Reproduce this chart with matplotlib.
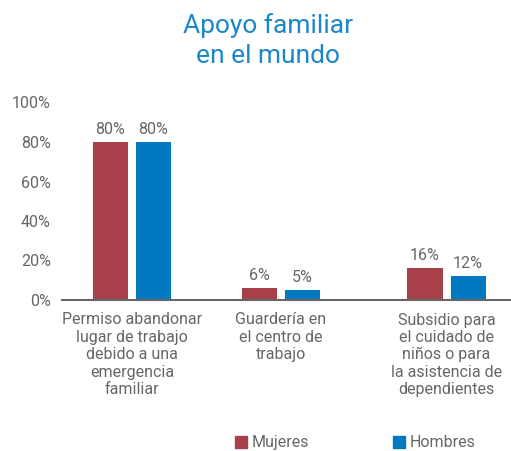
import matplotlib
matplotlib.use("Agg")
import matplotlib.pyplot as plt
from matplotlib.patches import Patch
import numpy as np

plt.rcParams['font.family'] = ['Roboto', 'DejaVu Sans']

categories = ["Permiso abandonar\nlugar de trabajo\ndebido a una\nemergencia\nfamiliar",
              "Guardería en\nel centro de\ntrabajo",
              "Subsidio para\nel cuidado de\nniños o para\nla asistencia de\ndependientes"]
mujeres = [80, 6, 16]
hombres = [80, 5, 12]
series_names = ["Mujeres", "Hombres"]
yticks = [0, 20, 40, 60, 80, 100]
title = "Apoyo familiar\nen el mundo"

# layout: group centres on the category axis
group_pos = np.array([0, 0.947, 2])

red = "#A8404A"
blue = "#0079C1"
gray = "#666666"

fig = plt.figure(figsize=(5.11, 4.51), dpi=100)
ax = fig.add_axes([62/511, 151/451, 449/511, 197.5/451])

w = 0.223
off = 0.137
b1 = ax.bar(group_pos - off, mujeres, w, color=red)
b2 = ax.bar(group_pos + off, hombres, w, color=blue)
for bars, vals in ((b1, mujeres), (b2, hombres)):
    for b, v in zip(bars, vals):
        ax.text(b.get_x() + b.get_width()/2, v + 2.5, f"{v}%", ha="center", va="bottom",
                fontsize=11.5, color=gray)

ax.set_xlim(-0.445, 2.41)
ax.set_ylim(0, 100)
ax.set_yticks(yticks)
ax.set_yticklabels([f"{t}%" for t in yticks], fontsize=11.5, color=gray)
ax.set_xticks(group_pos)
ax.set_xticklabels(categories, fontsize=11.5, color=gray, linespacing=1.2, va="top")
ax.tick_params(axis="both", length=0)
ax.tick_params(axis="y", pad=8)
ax.tick_params(axis="x", pad=9)
for s in ("top", "right", "left"):
    ax.spines[s].set_visible(False)
ax.spines["bottom"].set_color(gray)
ax.spines["bottom"].set_linewidth(1.5)

fig.text(0.524, 0.91, title, ha="center", va="center", fontsize=19, color="#1A87C9",
         linespacing=1.3)

handles = [Patch(color=red), Patch(color=blue)]
fig.legend(handles, series_names, loc="center", bbox_to_anchor=(0.695, 0.018), ncol=2,
           frameon=False, fontsize=11.5, handlelength=0.75, handleheight=0.75,
           handletextpad=0.25, columnspacing=5.3, labelcolor=gray)

fig.savefig("out.png", dpi=100)
